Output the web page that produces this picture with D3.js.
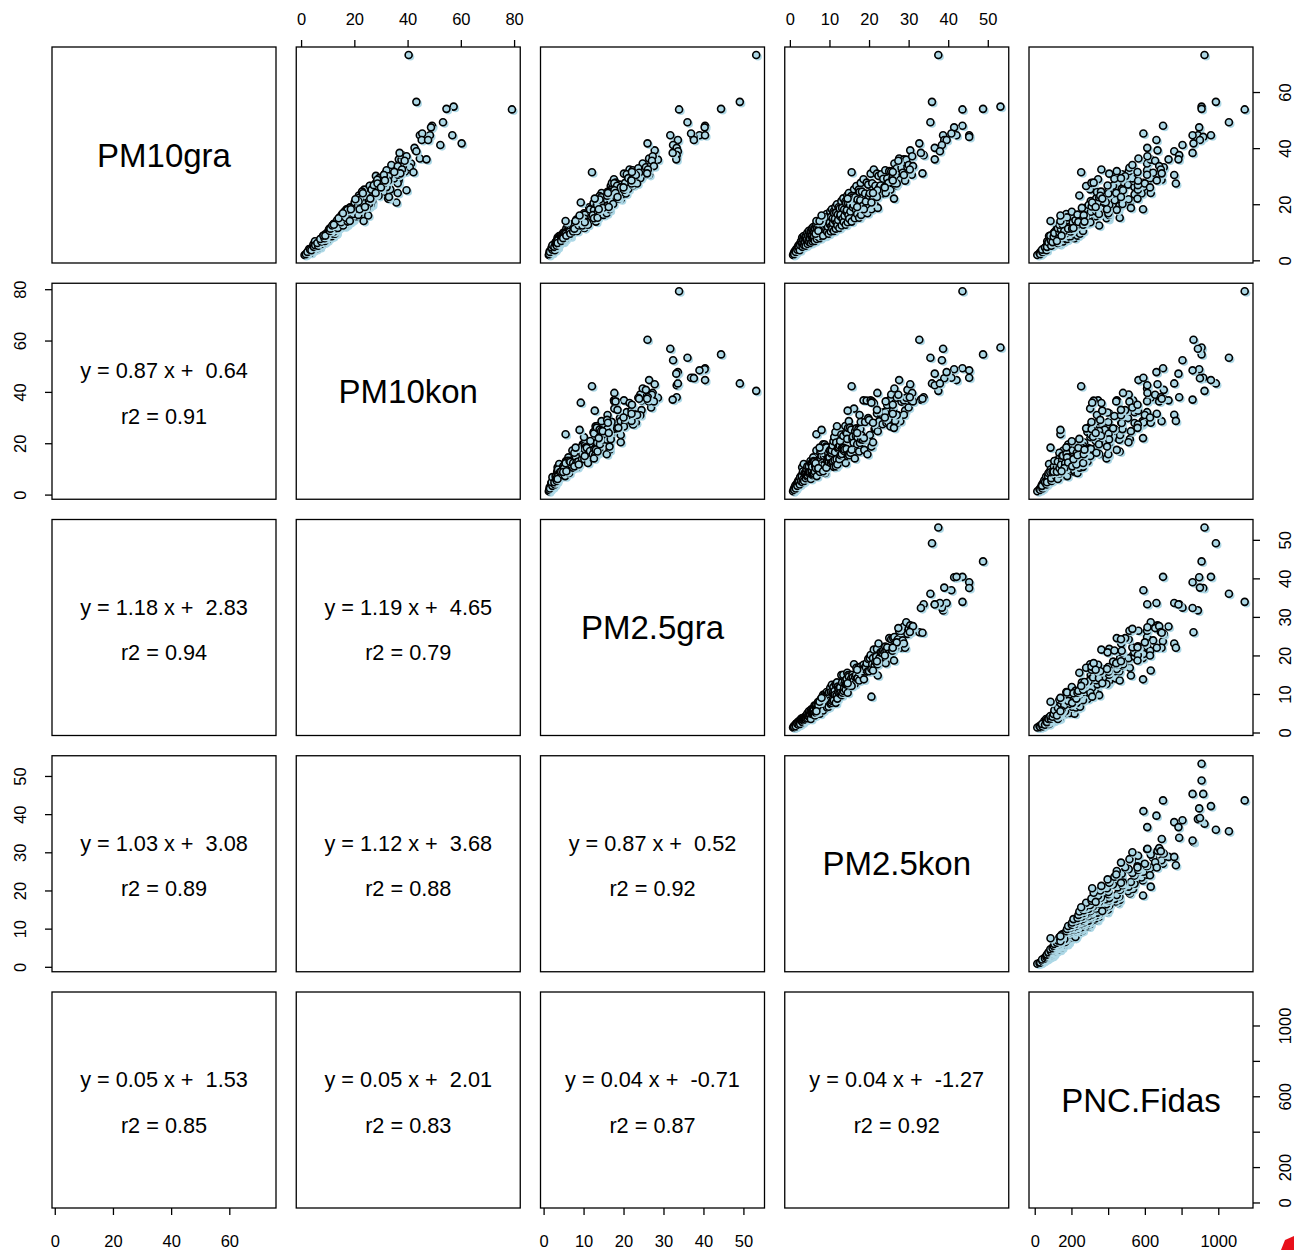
<!DOCTYPE html>
<html>
<head>
<meta charset="utf-8">
<script src="https://cdn.jsdelivr.net/npm/d3@7"></script>
<style>
  body { margin: 0; background: #ffffff; }
  svg text { font-family: "Liberation Sans", Arial, Helvetica, sans-serif; fill: #000; }
</style>
</head>
<body>
<svg id="chart" width="1294" height="1250"></svg>
<script>
// Variable names shown on the diagonal
const varNames = ["PM10gra", "PM10kon", "PM2.5gra", "PM2.5kon", "PNC.Fidas"];

// Daily measurements, one entry per day in each array (null = missing)
const PM10gra = [
  1.9, 2.6, 3.2, 2.7, 4.0, 3.5, 4.5, 5.2, 4.1, 5.6, 5.0, 6.1, 4.8, 6.5, 5.9, 2.2, 3.0, 3.8, 4.6, 3.6, 5.4, 6.8,
  6.2, 8.1, 4.8, 7.3, 5.8, 8.7, 5.4, 7.3, 6.4, 8.5, 5.2, 8.4, 7.2, 7.5, 9.8, 5.8, 8.8, 7.0, 10.5, 6.5, 8.7, 7.7, 10.2, 6.2, 10.0, 8.5, 8.8, 11.4, 6.7, 10.2, 8.0, 11.9, 7.4, 9.7,
  8.6, 11.4, 6.9, 11.1, 9.5, 9.9, 12.8, 7.6, 11.4, 9.1, 13.5, 8.4, 11.2, 9.9, 13.0, 7.9, 12.7, 10.8, 11.2, 14.5, 8.6, 12.9, 10.3, 15.3, 9.5, 12.6, 11.1, 14.6, 8.8, 14.2, 9.5, 10.5, 14.2, 8.8,
  14.0, 11.1, 16.5, 10.2, 13.5, 12.0, 15.7, 9.5, 15.3, 13.0, 13.5, 17.4, 10.3, 15.5, 12.2, 18.2, 11.3, 14.9, 13.2, 17.3, 10.5, 16.8, 14.3, 14.8, 19.1, 11.3, 17.0, 13.4, 20.0, 12.4,
  16.3, 14.4, 18.9, 11.5, 18.5, 15.7, 16.3, 21.1, 12.4, 18.7, 14.8, 22.1, 13.7, 18.1, 15.9, 21.0, 12.7, 20.4, 17.3, 17.9, 23.1, 13.6, 20.4, 16.1, 24.0, 14.8,
  19.7, 17.4, 22.9, 13.8, 22.3, 18.9, 19.7, 25.3, 15.0, 22.5, 17.9, 26.5, 16.5, 21.7, 19.2, 25.2, 15.2, 24.4, 20.7, 21.4, 27.6, 16.2,
  24.5, 19.4, 28.9, 18.0, 23.8, 21.0, 27.7, 16.8, 27.0, 23.0, 23.9, 30.9, 18.2, 27.5, 21.8, 32.4, 20.1, 26.6, 23.5, 30.9, 18.7, 30.1,
  26.0, 26.7, 30.7, 23.8, 29.1, 26.1, 32.1, 25.4, 29.2, 27.6, 31.8, 25.2, 31.7, 29.3, 30.0, 34.5,
  26.8, 32.8, 29.3, 36.3, 28.7, 33.0, 31.2, 36.0, 28.4, 35.9, 33.2, 34.0, 39.2, 30.5,
  73.2, 56.5, 54.8, 54.0, 53.8, 49.2, 48.0, 47.4, 44.6, 44.6, 44.0, 44.6, 45.2, 42.9, 42.9, 41.7,
  41.1, 40.1, 38.9, 37.5, 36.0, 38.3, 37.1, 35.5, 33.6, 32.4, 31.0, 30.4, 27.4, 31.4, 20.6, 18.2,
  14.0, 25.0, 22.0, 24.0, 14.0, 16.0, 19.0, 22.0, 22.6, 31.5, 27.4, 24.0, 26.0, 28.5
];
const PM10kon = [
  1.3, 2.2, 2.8, 3.6, 3.0, 4.4, 4.2, 5.4, 5.6, 4.6, 6.4, 5.5, 7.0, 6.6, 7.6, 1.8, 2.4, 3.4, 4.8, 3.9, 6.8, 5.2,
  7.1, 10.6, 4.8, 9.0, 6.1, 11.9, 5.3, 8.2, 8.4, 8.5, 6.4, 8.9, 9.8, 7.2, 11.0, 7.5, 8.7, 8.5, 11.0, 8.8, 8.3, 8.7, 13.1, 6.1, 12.1, 8.9, 11.8, 10.8, 7.6, 13.1, 7.9, 14.5, 7.8, 13.1,
  8.2, 12.8, 8.9, 11.0, 11.5, 10.3, 17.2, 7.2, 12.8, 11.7, 13.3, 10.2, 11.6, 13.2, 12.3, 8.8, 16.3, 10.6, 13.6, 15.1, 11.5, 12.3, 11.4, 19.6, 9.3, 15.1, 11.5, 19.5, 8.4, 15.8, 12.2, 10.3, 17.2, 9.1,
  18.7, 10.5, 18.4, 13.1, 13.3, 14.4, 16.2, 12.7, 14.5, 14.5, 17.3, 17.0, 12.3, 16.0, 16.3, 17.2, 12.5, 19.1, 12.9, 20.8, 10.8, 22.4, 13.5, 16.5, 24.4, 11.0, 20.3, 13.8, 26.6, 11.7,
  18.1, 18.4, 18.5, 13.8, 19.0, 20.9, 15.3, 23.4, 15.8, 18.2, 17.7, 22.8, 18.2, 17.0, 17.6, 26.7, 12.3, 24.3, 17.8, 23.8, 21.7, 15.0, 26.0, 15.7, 28.6, 15.3,
  26.1, 16.3, 25.3, 17.5, 21.7, 22.5, 20.2, 33.5, 14.1, 24.8, 22.7, 25.8, 19.6, 22.3, 25.5, 23.7, 16.8, 31.0, 20.1, 25.5, 28.3, 21.5,
  22.9, 21.4, 36.7, 17.4, 28.3, 21.6, 36.6, 15.7, 29.8, 29.1, 23.2, 36.7, 18.7, 36.3, 20.4, 35.7, 25.5, 25.8, 27.9, 31.6, 24.7, 28.1,
  28.6, 32.0, 31.3, 27.4, 30.6, 32.1, 32.1, 27.9, 34.9, 28.1, 36.7, 26.5, 39.0, 29.3, 32.9, 41.3,
  27.3, 37.7, 30.9, 44.6, 28.6, 36.2, 37.3, 36.7, 32.7, 37.7, 40.8, 33.9, 43.0, 36.4,
  40.4, 43.3, 57.3, 54.6, 79.2, 53.3, 49.2, 48.8, 56.8, 48.4, 45.5, 44.6, 45.5, 45.3, 47.7, 60.3,
  52.3, 42.6, 43.3, 37.9, 47.1, 37.0, 39.6, 38.9, 36.3, 37.9, 37.3, 31.1, 28.7, 42.2, 35.8, 22.0,
  23.5, 39.6, 32.7, 36.3, 18.3, 25.2, 24.0, 26.0, 33.0, 35.0, 31.0, 28.0, 30.0, 31.5
];
const PM25gra = [
  1.3, 1.7, 1.5, 2.1, 2.3, 1.9, 2.7, 2.4, 3.0, 2.6, 3.2, 2.9, 3.5, 3.0, 3.7, 1.4, 1.6, 2.2, 2.0, 2.8, 2.2, 3.3,
  3.0, 3.5, 2.7, 3.4, 3.1, 3.9, 3.3, 3.6, 3.5, 4.1, 3.3, 4.4, 3.6, 4.4, 4.9, 3.7, 4.3, 4.5, 5.5, 4.1, 4.6, 4.8, 5.6, 3.5, 6.0, 4.8, 5.4, 5.7, 4.9, 5.8, 5.1, 6.2, 5.1, 5.8,
  4.9, 7.0, 4.4, 6.8, 5.2, 6.8, 7.2, 5.4, 6.4, 6.4, 7.9, 5.1, 7.5, 6.1, 8.1, 4.9, 8.5, 6.8, 7.4, 8.2, 6.7, 8.1, 6.3, 9.8, 6.4, 8.4, 6.7, 9.9, 6.4, 9.2, 5.5, 7.1, 8.5, 5.7,
  9.6, 7.4, 10.5, 6.5, 9.8, 8.1, 10.2, 6.7, 10.4, 8.9, 8.3, 11.6, 7.4, 10.5, 7.7, 12.4, 8.2, 10.3, 8.7, 11.8, 8.4, 10.1, 10.8, 9.8, 12.6, 7.7, 12.4, 9.6, 13.0, 8.8,
  11.9, 10.5, 11.4, 10.2, 11.8, 11.7, 10.3, 14.9, 9.7, 13.0, 10.3, 15.0, 10.8, 11.6, 12.7, 13.4, 11.1, 12.5, 13.9, 12.6, 15.5, 10.3, 14.9, 12.3, 14.5, 12.9,
  13.3, 13.6, 14.0, 13.1, 15.0, 14.3, 13.4, 17.7, 12.6, 14.4, 15.0, 16.8, 14.1, 14.0, 16.3, 16.9, 13.5, 16.0, 16.5, 15.9, 17.1, 15.0,
  16.5, 15.9, 17.6, 16.5, 17.0, 16.8, 18.0, 15.8, 19.1, 15.9, 19.3, 20.1, 16.5, 17.7, 19.3, 21.5, 17.4, 18.4, 19.7, 21.7, 14.8, 23.1,
  19.3, 20.8, 20.8, 20.6, 21.3, 20.8, 22.3, 21.2, 22.1, 20.4, 24.5, 20.1, 24.2, 21.2, 24.5, 24.8,
  22.4, 23.7, 24.2, 26.4, 22.0, 26.4, 23.9, 27.5, 22.0, 28.6, 25.6, 26.9, 27.8, 26.4,
  53.2, 49.1, null, 44.4, 33.9, 36.0, 40.4, 40.3, 31.7, 39.0, 37.5, 40.4, 36.9, 37.6, 33.6, 26.0,
  32.4, 33.3, 33.6, 33.3, 33.2, 32.3, 27.3, 27.1, 27.6, 26.1, 25.9, 23.1, 22.0, 12.1, 9.3, 13.8,
  5.5, 17.7, 12.8, 18.0, 8.0, 9.0, 16.3, 18.7, 18.5, 22.1, 23.4, 16.1, 20.0, 22.0
];
const PM25kon = [
  0.8, 1.0, 1.2, 1.4, 1.6, 1.8, 2.0, 2.1, 2.3, 2.4, 2.6, 2.7, 2.8, 2.9, 3.0, 1.1, 1.5, 1.9, 2.2, 2.5, 2.6, 2.8,
  3.0, 3.1, 3.2, 3.3, 3.4, 3.5, 3.6, 3.7, 3.8, 3.9, 4.0, 4.1, 4.2, 4.3, 4.4, 4.5, 4.6, 4.7, 4.8, 4.9, 5.0, 5.1, 5.2, 5.3, 5.4, 5.5, 5.5, 5.6, 5.7, 5.8, 5.8, 5.9, 6.0, 6.0,
  6.1, 6.2, 6.3, 6.4, 6.5, 6.6, 6.7, 6.8, 6.9, 7.0, 7.1, 7.2, 7.3, 7.4, 7.5, 7.6, 7.7, 7.8, 7.9, 8.0, 8.1, 8.2, 8.3, 8.4, 8.5, 8.6, 8.7, 8.8, 8.9, 9.0, 6.5, 7.2, 7.8, 8.4,
  9.1, 9.2, 9.3, 9.4, 9.5, 9.6, 9.7, 9.8, 9.9, 10.0, 10.1, 10.2, 10.3, 10.4, 10.5, 10.6, 10.7, 10.8, 10.9, 11.0, 11.1, 11.2, 11.3, 11.4, 11.5, 11.6, 11.7, 11.8, 11.9, 12.0,
  12.1, 12.2, 12.3, 12.5, 12.6, 12.7, 12.8, 13.0, 13.1, 13.2, 13.3, 13.5, 13.6, 13.7, 13.8, 14.0, 14.1, 14.2, 14.3, 14.4, 14.5, 14.6, 14.7, 14.8, 14.9, 15.0,
  15.2, 15.3, 15.5, 15.6, 15.8, 15.9, 16.1, 16.2, 16.4, 16.5, 16.7, 16.8, 17.0, 17.1, 17.3, 17.4, 17.5, 17.6, 17.7, 17.8, 17.9, 18.0,
  18.2, 18.4, 18.6, 18.8, 19.0, 19.2, 19.4, 19.6, 19.8, 20.0, 20.2, 20.4, 20.6, 20.8, 21.0, 21.2, 21.4, 21.6, 21.8, 22.0, 22.2, 22.4,
  22.6, 22.9, 23.1, 23.4, 23.6, 23.9, 24.1, 24.4, 24.6, 24.9, 25.1, 25.4, 25.6, 25.9, 26.1, 26.4,
  26.7, 27.0, 27.3, 27.6, 27.9, 28.2, 28.5, 28.8, 29.1, 29.4, 29.7, 30.0, 30.4, 30.8,
  37.5, 35.9, 53.2, 48.8, 43.6, 35.5, 43.6, 41.5, 38.7, 45.3, 45.3, 42.1, 40.8, 39.0, 39.6, 32.7,
  38.4, 36.6, 37.9, 33.8, 36.6, 33.1, 30.9, 27.4, 31.1, 30.3, 33.5, 28.8, 26.6, 15.6, 20.6, 18.7,
  6.7, 22.1, 14.6, 24.2, 7.5, 8.0, 17.0, 26.3, 22.0, 26.0, 27.0, 21.0, 24.0, 26.0
];
const PNCFidas = [
  14, 26, 34, 38, 48, 44, 58, 66, 52, 72, 70, 84, 62, 95, 80, 30, 42, 40, 56, 64, 78, 68,
  73, 94, 67, 89, 104, 78, 91, 104, 75, 100, 90, 116, 87, 115, 104, 136, 85, 107, 137, 97, 127, 148, 109, 126, 144, 103, 135, 121, 155, 116, 150, 135, 175, 107,
  135, 171, 121, 158, 184, 135, 156, 177, 126, 167, 149, 191, 143, 186, 167, 217, 134, 168, 213, 150, 196, 226, 166, 191, 217, 154, 204, 182, 233, 173, 166, 161, 222, 146,
  193, 245, 172, 225, 260, 191, 219, 247, 176, 232, 207, 263, 196, 254, 229, 295, 182, 228, 288, 202, 263, 303, 222, 254, 287, 204, 269, 240, 305, 227,
  293, 263, 339, 211, 263, 333, 233, 305, 351, 257, 294, 335, 238, 312, 277, 355, 264, 341, 306, 393, 243, 303, 382, 267, 348, 400,
  294, 336, 382, 271, 357, 318, 406, 302, 391, 351, 453, 280, 350, 441, 310, 403, 463, 339, 387, 436, 309, 405,
  361, 461, 345, 447, 401, 518, 321, 401, 508, 357, 465, 536, 394, 452, 511, 363, 478, 427, 544, 406, 524, 471,
  588, 397, 475, 582, 434, 543, 612, 474, 532, 592, 447, 562, 512, 629, 493, 612,
  562, 698, 470, 565, 691, 516, 645, 729, 563, 632, 703, 532, 669, 612,
  925, 987, 909, 909, 1144, 1058, 699, 896, 889, 860, 918, 960, 592, 900, 663, 865,
  805, 613, 760, 787, 783, 860, 614, 656, 678, 687, 692, 760, 769, 253, 313, 590,
  140, 481, 368, 444, 86, 140, 332, 560, 470, 560, 600, 632, 628, 665
];

// Axis ticks per variable, and which of them carry a printed label
const tickValues = [
  [0, 20, 40, 60],
  [0, 20, 40, 60, 80],
  [0, 10, 20, 30, 40, 50],
  [0, 10, 20, 30, 40, 50],
  [0, 200, 400, 600, 800, 1000]
];
const tickLabels = [
  [0, 20, 40, 60],
  [0, 20, 40, 60, 80],
  [0, 10, 20, 30, 40, 50],
  [0, 10, 20, 30, 40, 50],
  [0, 200, 600, 1000]
];

// Linear fits shown in the lower panels, listed row by row ([row, col] pairs)
const fitPanels = [[1, 0], [2, 0], [2, 1], [3, 0], [3, 1], [3, 2], [4, 0], [4, 1], [4, 2], [4, 3]];
const fitSlope = [0.87, 1.18, 1.19, 1.03, 1.12, 0.87, 0.05, 0.05, 0.04, 0.04];
const fitIntercept = [0.64, 2.83, 4.65, 3.08, 3.68, 0.52, 1.53, 2.01, -0.71, -1.27];
const fitR2 = [0.91, 0.94, 0.79, 0.89, 0.88, 0.92, 0.85, 0.83, 0.87, 0.92];

// ---- layout ----
const columns = [PM10gra, PM10kon, PM25gra, PM25kon, PNCFidas];
const nVar = columns.length;
const nObs = PM10gra.length;
const panelW = 224, panelH = 216;
const panelLeft = j => 52 + j * 244.25;
const panelTop = i => 47 + i * 236.25;
const tickLen = 7;

const svg = d3.select("#chart");

// data range padded by 4% on each side
function paddedDomain(values) {
  const [lo, hi] = d3.extent(values.filter(v => v != null));
  const pad = (hi - lo) * 0.04;
  return [lo - pad, hi + pad];
}
const domains = columns.map(paddedDomain);
const xScales = domains.map((d, j) => d3.scaleLinear().domain(d).range([panelLeft(j), panelLeft(j) + panelW]));
const yScales = domains.map((d, i) => d3.scaleLinear().domain(d).range([panelTop(i) + panelH, panelTop(i)]));

const fmtTick = j => v => tickLabels[j].includes(v) ? String(v) : "";

// ---- scatter panels (above the diagonal) ----
for (let i = 0; i < nVar; i++) {
  for (let j = i + 1; j < nVar; j++) {
    const g = svg.append("g").attr("class", `panel-${i}-${j}`);
    const pts = d3.range(nObs)
      .filter(k => columns[j][k] != null && columns[i][k] != null)
      .map(k => ({ x: xScales[j](columns[j][k]), y: yScales[i](columns[i][k]) }));
    const mark = g.selectAll("g.pt").data(pts).join("g").attr("class", "pt");
    mark.append("circle")
      .attr("cx", d => d.x + 1.8).attr("cy", d => d.y + 1.8).attr("r", 3.8)
      .attr("fill", "#add8e6");
    mark.append("circle")
      .attr("cx", d => d.x).attr("cy", d => d.y).attr("r", 3.5)
      .attr("fill", "#add8e6").attr("stroke", "#000").attr("stroke-width", 1.6);
  }
}

// ---- diagonal labels ----
for (let i = 0; i < nVar; i++) {
  svg.append("text")
    .attr("x", panelLeft(i) + panelW / 2)
    .attr("y", panelTop(i) + panelH / 2)
    .attr("text-anchor", "middle")
    .attr("dominant-baseline", "central")
    .attr("font-size", 33)
    .text(varNames[i]);
}

// ---- fit text (below the diagonal) ----
fitPanels.forEach(([i, j], k) => {
  const cx = panelLeft(j) + panelW / 2;
  const cy = panelTop(i) + panelH / 2;
  svg.append("text")
    .attr("x", cx).attr("y", cy - 20.5)
    .attr("text-anchor", "middle").attr("dominant-baseline", "central")
    .attr("font-size", 21.7)
    .style("white-space", "pre")
    .text(`y = ${fitSlope[k].toFixed(2)} x +  ${fitIntercept[k].toFixed(2)}`);
  svg.append("text")
    .attr("x", cx).attr("y", cy + 25)
    .attr("text-anchor", "middle").attr("dominant-baseline", "central")
    .attr("font-size", 21.7)
    .style("white-space", "pre")
    .text(`r2 = ${fitR2[k].toFixed(2)}`);
});

// ---- panel frames ----
for (let i = 0; i < nVar; i++) {
  for (let j = 0; j < nVar; j++) {
    svg.append("rect")
      .attr("x", panelLeft(j)).attr("y", panelTop(i))
      .attr("width", panelW).attr("height", panelH)
      .attr("fill", "none").attr("stroke", "#000").attr("stroke-width", 1.3);
  }
}

// ---- axes: alternate sides like a pairs plot ----
function styleAxis(sel) {
  sel.select(".domain").remove();
  sel.selectAll(".tick line").attr("stroke", "#000").attr("stroke-width", 1.3);
  sel.selectAll(".tick text").attr("font-size", 16.5).attr("fill", "#000")
    .style("font-family", '"Liberation Sans", Arial, sans-serif');
}
for (let j = 0; j < nVar; j++) {
  const onTop = j % 2 === 1;
  const axis = (onTop ? d3.axisTop : d3.axisBottom)(xScales[j])
    .tickValues(tickValues[j]).tickFormat(fmtTick(j))
    .tickSize(tickLen).tickSizeOuter(0);
  const y = onTop ? panelTop(0) : panelTop(nVar - 1) + panelH;
  const g = svg.append("g").attr("transform", `translate(0,${y})`).call(axis);
  styleAxis(g);
  g.selectAll(".tick text")
    .attr("y", onTop ? -28 : 33).attr("dy", null)
    .attr("dominant-baseline", "central");
}
for (let i = 0; i < nVar; i++) {
  const onLeft = i % 2 === 1;
  const axis = (onLeft ? d3.axisLeft : d3.axisRight)(yScales[i])
    .tickValues(tickValues[i]).tickFormat(fmtTick(i))
    .tickSize(tickLen).tickSizeOuter(0);
  const x = onLeft ? panelLeft(0) : panelLeft(nVar - 1) + panelW;
  const g = svg.append("g").attr("transform", `translate(${x},0)`).call(axis);
  styleAxis(g);
  g.selectAll(".tick text")
    .attr("x", null).attr("dy", null)
    .attr("text-anchor", "middle").attr("dominant-baseline", "central")
    .attr("transform", `translate(${onLeft ? -32 : 32},0) rotate(-90)`);
}

// small red mark in the lower right corner
svg.append("path")
  .attr("d", "M1281,1250 L1285,1240 L1294,1236 L1294,1250 Z")
  .attr("fill", "#e8101a");
</script>
</body>
</html>
